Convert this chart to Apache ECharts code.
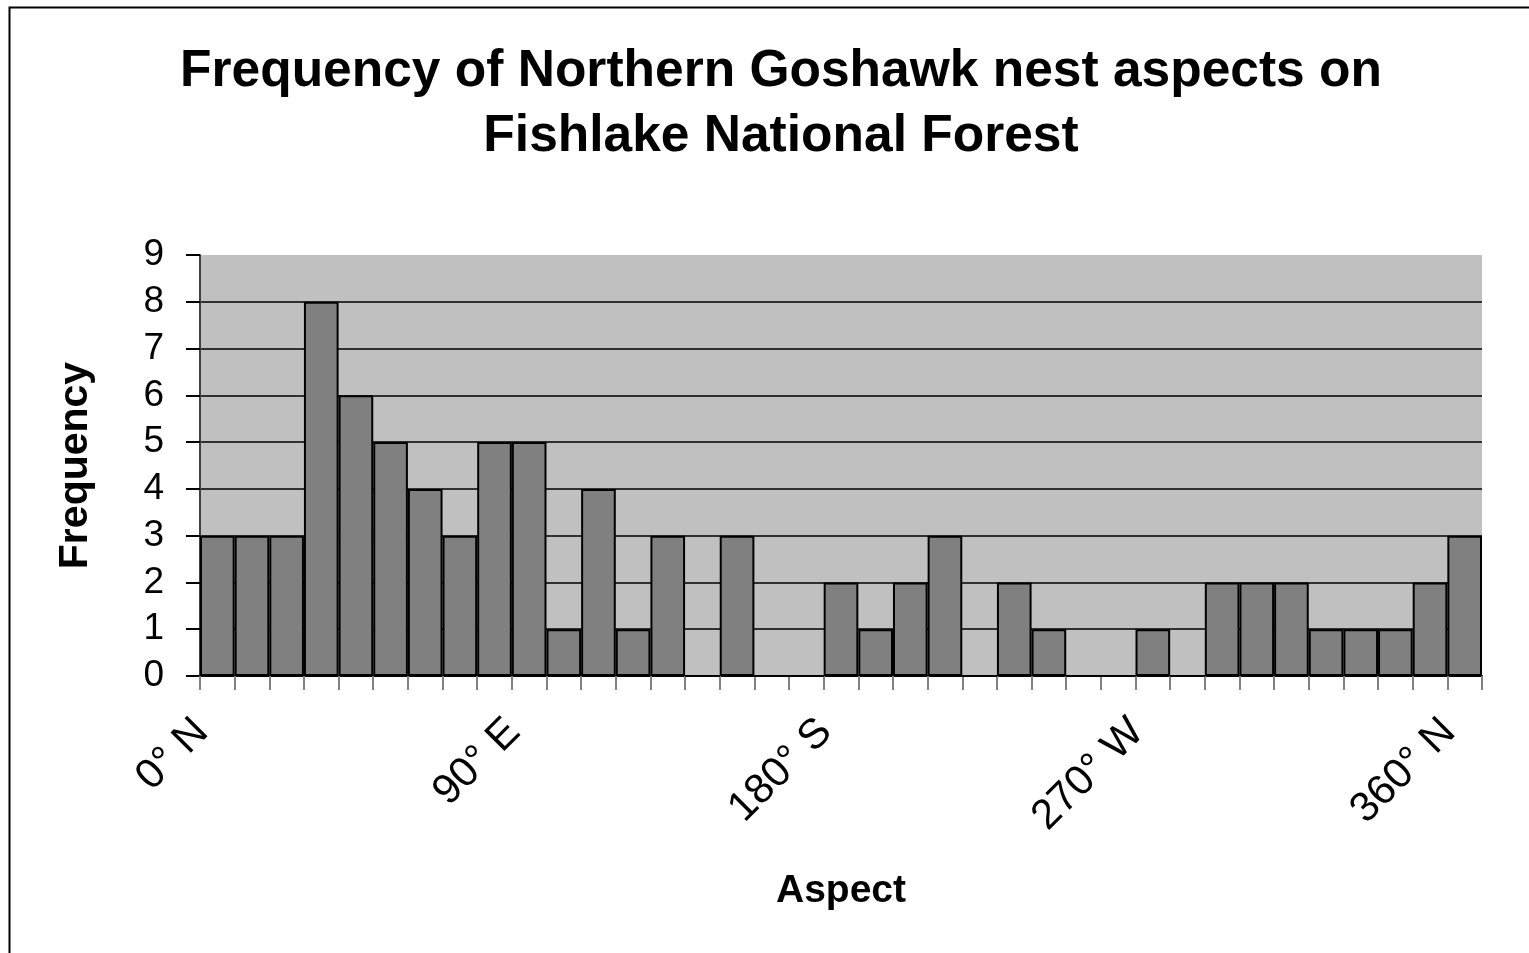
<!DOCTYPE html>
<html>
<head>
<meta charset="utf-8">
<script src="https://cdn.jsdelivr.net/npm/echarts@6/dist/echarts.min.js"></script>
<style>html,body{margin:0;padding:0;background:#fff}#c{width:1529px;height:953px}</style>
</head>
<body>
<div id="c"></div>
<script>
var categories = ['0° N','10°','20°','30°','40°','50°','60°','70°','80°','90° E','100°','110°','120°','130°','140°','150°','160°','170°','180° S','190°','200°','210°','220°','230°','240°','250°','260°','270° W','280°','290°','300°','310°','320°','330°','340°','350°','360° N'];
var frequency = [3,3,3,8,6,5,4,3,5,5,1,4,1,3,0,3,0,0,2,1,2,3,0,2,1,0,0,1,0,2,2,2,1,1,1,2,3];
var yTicks = [0,1,2,3,4,5,6,7,8,9];
var titleText = 'Frequency of Northern Goshawk nest aspects on\nFishlake National Forest';
var FONT = '"Liberation Sans", Arial, sans-serif';

var gridColors = yTicks.map(function (v, i) { return i === yTicks.length - 1 ? 'rgba(0,0,0,0)' : '#000'; });

var chart = echarts.init(document.getElementById('c'), null, {renderer: 'canvas'});
chart.setOption({
  animation: false,
  backgroundColor: '#ffffff',
  graphic: [{
    type: 'rect', left: 7, top: 5,
    shape: {width: 1600, height: 1000},
    style: {fill: 'none', stroke: '#000', lineWidth: 2},
    silent: true
  }],
  title: {
    text: titleText,
    left: 776, top: 34, textAlign: 'center',
    textStyle: {fontFamily: FONT, fontSize: 51.5, fontWeight: 'bold', color: '#000', lineHeight: 65}
  },
  grid: {left: 200, top: 255, width: 1282, height: 421, containLabel: false,
         show: true, backgroundColor: '#c0c0c0', borderWidth: 0},
  xAxis: {
    type: 'category', data: categories,
    name: 'Aspect', nameLocation: 'middle', nameGap: 196,
    nameTextStyle: {fontFamily: FONT, fontSize: 39, fontWeight: 'bold', color: '#000'},
    axisLine: {show: true, lineStyle: {color: '#000', width: 2}},
    axisTick: {show: true, interval: 0, length: 14, alignWithLabel: false, lineStyle: {color: '#808080', width: 2}},
    axisLabel: {interval: 8, rotate: 45, margin: 34, padding: [0, 22, 0, 0], fontFamily: FONT, fontSize: 42, color: '#000'},
    splitLine: {show: false}
  },
  yAxis: {
    type: 'value', min: 0, max: 9, interval: 1,
    name: 'Frequency', nameLocation: 'middle', nameGap: 104, nameRotate: 90,
    nameTextStyle: {fontFamily: FONT, fontSize: 41, fontWeight: 'bold', color: '#000'},
    axisLine: {show: true, lineStyle: {color: '#404040', width: 2}},
    axisTick: {show: true, length: 14, lineStyle: {color: '#000', width: 2}},
    axisLabel: {margin: 36, fontFamily: FONT, fontSize: 37, color: '#000',
      formatter: function (v) { return yTicks.indexOf(v) >= 0 ? String(v) : ''; }},
    splitLine: {show: true, lineStyle: {color: gridColors, width: 1.5}}
  },
  series: [{
    type: 'bar', data: frequency,
    barCategoryGap: '0%',
    itemStyle: {color: '#808080', borderColor: '#000', borderWidth: 2},
    emphasis: {disabled: true}
  }]
});
</script>
</body>
</html>
